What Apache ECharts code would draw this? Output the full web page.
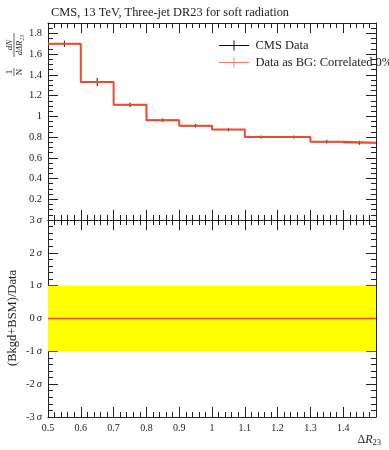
<!DOCTYPE html>
<html><head><meta charset="utf-8">
<script src="https://cdn.jsdelivr.net/npm/echarts@6/dist/echarts.min.js"></script>
<style>html,body{margin:0;padding:0;background:#fff}#c{width:389px;height:450px}</style>
</head><body><div id="c"></div>
<script>
const binEdges = [0.5,0.6,0.7,0.8,0.9,1.0,1.1,1.2,1.3,1.4,1.5];
const dataValues = [1.70,1.332,1.111,0.963,0.909,0.872,0.800,0.800,0.755,0.745];
const dataErrors = [0.020,0.030,0.012,0.008,0.007,0.007,0.006,0.006,0.008,0.010];
const bgValues = [1.70,1.332,1.111,0.963,0.909,0.872,0.800,0.800,0.755,0.745];
const ratioValues = [0,0,0,0,0,0,0,0,0,0];
const title = 'CMS, 13 TeV, Three-jet DR23 for soft radiation';
const seriesNames = ['CMS Data','Data as BG: Correlated 0%'];

const FONT = 'Liberation Serif';
const RED = '#ee4a32';
const chart = echarts.init(document.getElementById('c'));

function stepData(vals){
  const d = vals.map((v,i)=>[binEdges[i], v]);
  d.push([binEdges[binEdges.length-1], vals[vals.length-1]]);
  return d;
}
const errData = dataValues.map((v,i)=>[binEdges[i], binEdges[i+1], v, dataErrors[i]]);

function xAx(grid, pos, labels){
  return {type:'value', gridIndex:grid, position:pos, min:0.5, max:1.5, interval:0.1,
    axisLine:{show:true, onZero:false, lineStyle:{color:'#222', width:1}},
    axisTick:{show:true, inside:true, length:10, lineStyle:{color:'#222'}},
    minorTick:{show:true, splitNumber:5, length:5, lineStyle:{color:'#222'}},
    splitLine:{show:false}, minorSplitLine:{show:false},
    axisLabel:{show:labels, margin:6, color:'#222', fontFamily:FONT, fontSize:10,
      showMaxLabel:false,
      formatter:v=>{ if (v>1.45) return ''; return Math.abs(v-1)<1e-9 ? '1' : v.toFixed(1);} }};
}
function yAx(grid, pos, opt){
  return Object.assign({type:'value', gridIndex:grid, position:pos,
    axisLine:{show:true, onZero:false, lineStyle:{color:'#222', width:1}},
    axisTick:{show:true, inside:true, length:10, lineStyle:{color:'#222'}},
    minorTick:{show:true, length:5, lineStyle:{color:'#222'}},
    splitLine:{show:false}}, opt);
}

const option = {
  animation:false,
  textStyle:{fontFamily:FONT},
  title:{text:title, left:46, top:2, textStyle:{fontFamily:FONT, fontSize:12.4, fontWeight:'normal', color:'#222'}},
  grid:[
    {left:48, top:23, width:328, height:197},
    {left:48, top:220, width:328, height:197}
  ],
  legend:{
    orient:'vertical', left:214, top:34, itemGap:4, itemWidth:33, itemHeight:10,
    textStyle:{fontFamily:FONT, fontSize:12.5, color:'#222'},
    data:[
      {name:seriesNames[0], icon:'path://M0,4.5H30V5.5H0Z M14.5,0H15.5V10H14.5Z', itemStyle:{color:'#111'}},
      {name:seriesNames[1], icon:'path://M0,4.5H30V5.5H0Z M14.5,0H15.5V10H14.5Z', itemStyle:{color:'#f47a66'}}
    ]
  },
  xAxis:[ xAx(0,'bottom',false), xAx(0,'top',false), xAx(1,'bottom',true), xAx(1,'top',false) ],
  yAxis:[
    yAx(0,'left',{min:0, max:1.9, interval:0.2, minorTick:{show:true, splitNumber:4, length:5, lineStyle:{color:'#222'}},
      axisLabel:{show:true, margin:6, color:'#222', fontFamily:FONT, fontSize:10.5,
        formatter:v=>{ if (v<0.1 || v>1.85) return ''; return Math.abs(v-1)<1e-9 ? '1' : v.toFixed(1);} }}),
    yAx(0,'right',{min:0, max:1.9, interval:0.2, minorTick:{show:true, splitNumber:4, length:5, lineStyle:{color:'#222'}}, axisLabel:{show:false}}),
    yAx(1,'left',{min:-3, max:3, interval:1, minorTick:{show:true, splitNumber:5, length:5, lineStyle:{color:'#222'}},
      axisLabel:{show:true, margin:6, color:'#222', fontFamily:FONT, fontSize:10.5,
        formatter:v=>'{n|'+String(Math.round(v))+'\u2009}{s|σ}',
        rich:{n:{fontFamily:FONT, fontSize:10.5, color:'#222'}, s:{fontFamily:FONT, fontSize:10.5, fontStyle:'italic', color:'#222'}}}}),
    yAx(1,'right',{min:-3, max:3, interval:1, minorTick:{show:true, splitNumber:5, length:5, lineStyle:{color:'#222'}}, axisLabel:{show:false}})
  ],
  series:[
    {name:seriesNames[1], type:'line', xAxisIndex:0, yAxisIndex:0, step:'end', symbol:'none',
      data:stepData(bgValues), lineStyle:{color:RED, width:2}, itemStyle:{color:RED}, z:3},
    {name:seriesNames[0], type:'custom', xAxisIndex:0, yAxisIndex:0, data:errData, z:2,
      itemStyle:{color:'#111'},
      renderItem:(params, api)=>{
        const lo=api.value(0), hi=api.value(1), v=api.value(2), e=api.value(3);
        const xc=(lo+hi)/2;
        const pT=api.coord([xc, v+e]), pB=api.coord([xc, v-e]);
        const pL=api.coord([lo, v]), pR=api.coord([hi, v]);
        return {type:'group', children:[
          {type:'line', shape:{x1:pT[0], y1:pT[1]-1, x2:pB[0], y2:pB[1]+1}, style:{stroke:'#111', lineWidth:1}},
          {type:'line', shape:{x1:pL[0], y1:pL[1], x2:pR[0], y2:pR[1]}, style:{stroke:'#111', lineWidth:1}}
        ]};
      }},
    {name:'ratio', type:'line', xAxisIndex:2, yAxisIndex:2, symbol:'none', data:stepData(ratioValues), step:'end',
      lineStyle:{color:RED, width:1.5}, z:3,
      markArea:{silent:true, itemStyle:{color:'#ffff00'}, data:[[{yAxis:-1},{yAxis:1}]]}}
  ],
  graphic:[
    {type:'group', x:14, y:48, rotation:Math.PI/2, children:[
      {type:'text', x:-24, y:-9, style:{text:'1', fontFamily:FONT, fontSize:9, fill:'#222', align:'center'}},
      {type:'line', shape:{x1:-28, y1:0, x2:-20, y2:0}, style:{stroke:'#222', lineWidth:0.7}},
      {type:'text', x:-24, y:1, style:{text:'N', fontFamily:FONT, fontSize:9, fill:'#222', align:'center'}},
      {type:'text', x:3, y:-9, style:{text:'dN', fontFamily:FONT, fontSize:9, fontStyle:'italic', fill:'#222', align:'center'}},
      {type:'line', shape:{x1:-9, y1:0, x2:15, y2:0}, style:{stroke:'#222', lineWidth:0.7}},
      {type:'text', x:3, y:1, style:{text:'dΔR₂₃', fontFamily:FONT, fontSize:8.5, fontStyle:'italic', fill:'#222', align:'center'}}
    ]},
    {type:'text', x:6, y:318, rotation:Math.PI/2, style:{text:'(Bkgd+BSM)/Data', fontFamily:FONT, fontSize:12.5, fill:'#222', align:'center', verticalAlign:'top'}},
    {type:'text', right:8, top:434, style:{text:'{a|Δ}{b|R}{c|23}', fontFamily:FONT, fill:'#222',
      rich:{a:{fontFamily:FONT, fontSize:12, fill:'#222'}, b:{fontFamily:FONT, fontSize:12, fontStyle:'italic', fill:'#222'}, c:{fontFamily:FONT, fontSize:8.5, fill:'#222', padding:[6,0,0,0]}}}}
  ]
};
chart.setOption(option);
</script></body></html>
